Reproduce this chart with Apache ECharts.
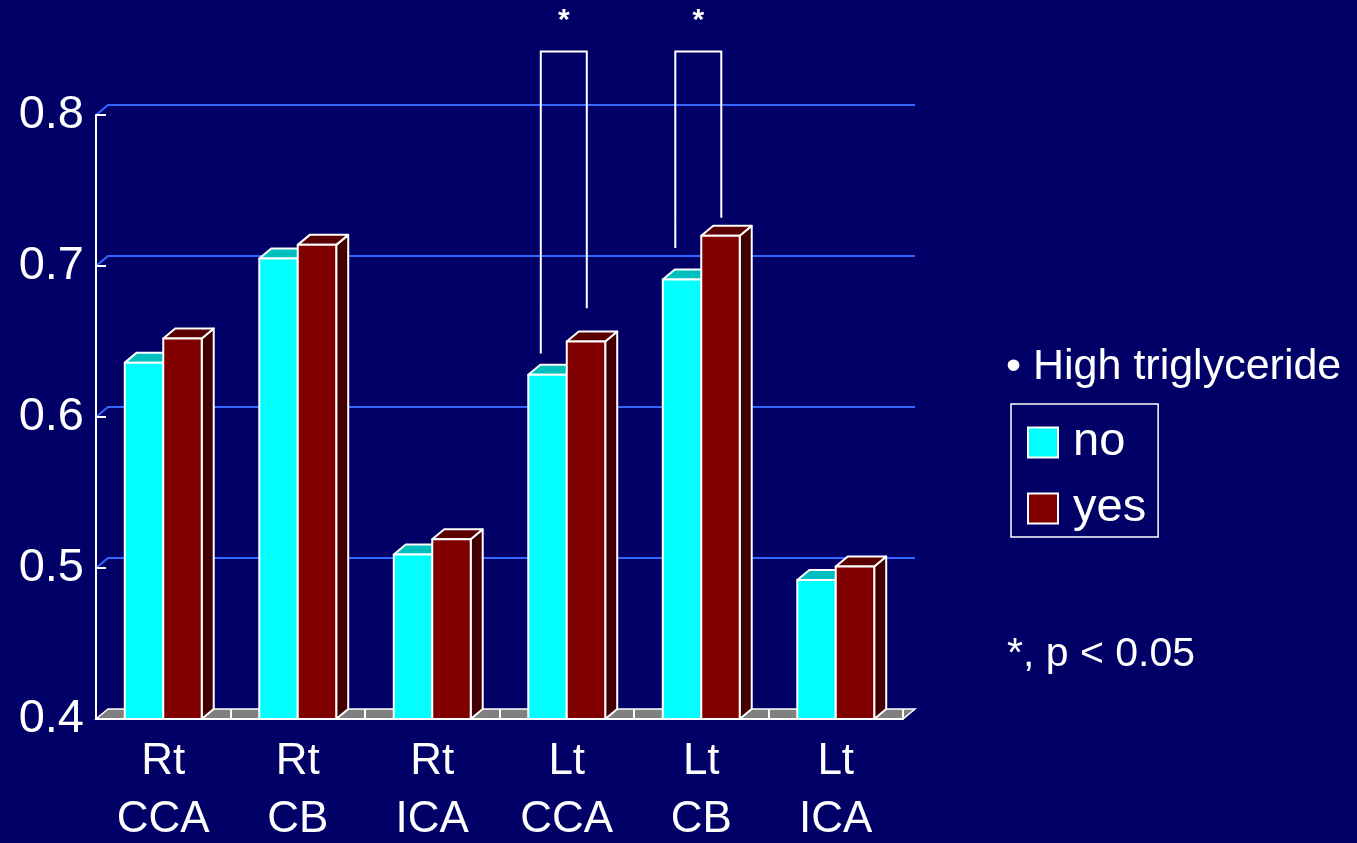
<!DOCTYPE html>
<html>
<head>
<meta charset="utf-8">
<title>Carotid values by high triglyceride</title>
<script src="https://cdn.jsdelivr.net/npm/echarts@6/dist/echarts.min.js"></script>
<style>
  html, body { margin: 0; padding: 0; background: #000066; }
  #chart { width: 1357px; height: 843px; }
</style>
</head>
<body>
<div id="chart"></div>
<script>
// Categories (artery segment, two-line labels)
const categories = ['Rt\nCCA', 'Rt\nCB', 'Rt\nICA', 'Lt\nCCA', 'Lt\nCB', 'Lt\nICA'];

// Mean values per group
const noValues  = [0.636, 0.705, 0.509, 0.628, 0.691, 0.492];
const yesValues = [0.652, 0.714, 0.519, 0.650, 0.720, 0.501];

// Value axis ticks
const yTicks = [0.4, 0.5, 0.6, 0.7, 0.8];
const yMin = 0.4, yMax = 0.8, yStep = 0.1;

// Significance brackets: [category index, bracket top, left leg end, right leg end]
const brackets = [
  [3, 0.842, 0.642, 0.672],
  [4, 0.842, 0.712, 0.732]
];

const FONT = '"Liberation Sans", Arial, sans-serif';
const DEPTH_X = 12, DEPTH_Y = 10;          // 3D depth offset
const BAR_FRAC = 0.286;                    // bar width as fraction of band

const chart = echarts.init(document.getElementById('chart'), null, { renderer: 'canvas' });

// Back-wall gridlines with diagonal connectors to the front axis
function renderGrid(params, api) {
  const cs = params.coordSys;
  const y = api.coord([0, api.value(0)])[1];
  return {
    type: 'polyline',
    shape: { points: [[cs.x, y], [cs.x + DEPTH_X, y - DEPTH_Y], [cs.x + cs.width + DEPTH_X, y - DEPTH_Y]] },
    style: { stroke: '#3366ff', lineWidth: 2, fill: null }
  };
}

// Floor plane
function renderFloor(params, api) {
  const cs = params.coordSys;
  const yb = api.coord([0, yMin])[1];
  return {
    type: 'polygon',
    shape: { points: [[cs.x, yb], [cs.x + cs.width, yb], [cs.x + cs.width + DEPTH_X, yb - DEPTH_Y], [cs.x + DEPTH_X, yb - DEPTH_Y]] },
    style: { fill: '#808080', stroke: '#ffffff', lineWidth: 1.5 }
  };
}

// 3D box bar: front face, top face and right side face
function makeBarRenderer(isLeft, front, topC, sideC) {
  return function (params, api) {
    const cat = api.value(0), v = api.value(1);
    const base = api.coord([cat, yMin]);
    const top = api.coord([cat, v]);
    const band = api.size([1, 0])[0];
    const w = band * BAR_FRAC;
    const x0 = isLeft ? base[0] - w : base[0];
    const yt = top[1], yb = base[1];
    const stroke = { stroke: '#ffffff', lineWidth: 2, lineJoin: 'round' };
    return {
      type: 'group',
      children: [
        { type: 'polygon', shape: { points: [[x0 + w, yt], [x0 + w + DEPTH_X, yt - DEPTH_Y], [x0 + w + DEPTH_X, yb - DEPTH_Y], [x0 + w, yb]] },
          style: Object.assign({ fill: sideC }, stroke) },
        { type: 'polygon', shape: { points: [[x0, yt], [x0 + w, yt], [x0 + w + DEPTH_X, yt - DEPTH_Y], [x0 + DEPTH_X, yt - DEPTH_Y]] },
          style: Object.assign({ fill: topC }, stroke) },
        { type: 'rect', shape: { x: x0, y: yt, width: w, height: yb - yt },
          style: Object.assign({ fill: front }, stroke) }
      ]
    };
  };
}

// Significance bracket with asterisk
function renderBracket(params, api) {
  const cat = api.value(0);
  const band = api.size([1, 0])[0];
  const cx = api.coord([cat, yMin])[0];
  const yTop = api.coord([cat, api.value(1)])[1];
  const yL = api.coord([cat, api.value(2)])[1];
  const yR = api.coord([cat, api.value(3)])[1];
  const lx = cx - band * 0.193, rx = cx + band * 0.149;
  return {
    type: 'group',
    children: [
      { type: 'polyline', shape: { points: [[lx, yL], [lx, yTop], [rx, yTop], [rx, yR]] },
        style: { stroke: '#ffffff', lineWidth: 2, fill: null } },
      { type: 'text', x: (lx + rx) / 2, y: yTop - 31,
        style: { text: '*', fill: '#ffffff', font: 'bold 30px ' + FONT, align: 'center', verticalAlign: 'middle' } }
    ]
  };
}

const option = {
  backgroundColor: '#000066',
  animation: false,
  textStyle: { fontFamily: FONT },
  title: [
    { text: '\u2022 High triglyceride', left: 1006, top: 346, padding: 0,
      textStyle: { color: '#ffffff', fontSize: 43, fontWeight: 'normal', fontFamily: FONT } },
    { text: '*, p < 0.05', left: 1007, top: 634, padding: 0,
      textStyle: { color: '#ffffff', fontSize: 41, fontWeight: 'normal', fontFamily: FONT } }
  ],
  legend: {
    data: ['no', 'yes'],
    orient: 'vertical',
    left: 1011, top: 404,
    padding: [15, 12, 5, 16],
    itemGap: 19,
    itemWidth: 30, itemHeight: 30,
    icon: 'rect',
    borderColor: '#ffffff', borderWidth: 1.5,
    itemStyle: { borderColor: '#ffffff', borderWidth: 2 },
    textStyle: { color: '#ffffff', fontSize: 47, fontFamily: FONT, padding: [0, 0, 0, 10] }
  },
  grid: { left: 96, top: 115, width: 807, height: 604, containLabel: false, outerBoundsMode: 'none' },
  xAxis: {
    type: 'category',
    data: categories,
    z: 10,
    axisLine: { show: true, lineStyle: { color: '#ffffff', width: 2 } },
    axisTick: { show: true, inside: true, length: 10, lineStyle: { color: '#ffffff', width: 2 } },
    axisLabel: { interval: 0, color: '#ffffff', fontSize: 44, lineHeight: 58, margin: 14, fontFamily: FONT },
    splitLine: { show: false }
  },
  yAxis: {
    type: 'value',
    min: yMin, max: yMax, interval: yStep,
    z: 10,
    axisLine: { show: true, lineStyle: { color: '#ffffff', width: 2 } },
    axisTick: { show: true, inside: true, length: 10, lineStyle: { color: '#ffffff', width: 2 } },
    axisLabel: { color: '#ffffff', fontSize: 47, margin: 12, padding: [8, 0, 0, 0], fontFamily: FONT,
      formatter: v => v.toFixed(1) },
    splitLine: { show: false }
  },
  series: [
    { type: 'custom', name: 'grid', z: 1, silent: true, renderItem: renderGrid,
      data: yTicks.filter(t => t > yMin).map(t => [t]), encode: { y: 0 } },
    { type: 'custom', name: 'floor', z: 2, silent: true, renderItem: renderFloor,
      data: [[0, yMin]], encode: { x: 0, y: 1 } },
    { type: 'custom', name: 'no', z: 3, renderItem: makeBarRenderer(true, '#00ffff', '#00bfbf', '#008f8f'),
      itemStyle: { color: '#00ffff' },
      data: noValues.map((v, i) => [i, v]), encode: { x: 0, y: 1 } },
    { type: 'custom', name: 'yes', z: 4, renderItem: makeBarRenderer(false, '#800000', '#5a0000', '#420000'),
      itemStyle: { color: '#800000' },
      data: yesValues.map((v, i) => [i, v]), encode: { x: 0, y: 1 } },
    { type: 'custom', name: 'significance', z: 5, silent: true, renderItem: renderBracket,
      data: brackets, encode: { x: 0, y: 1 } }
  ]
};

chart.setOption(option);
</script>
</body>
</html>
